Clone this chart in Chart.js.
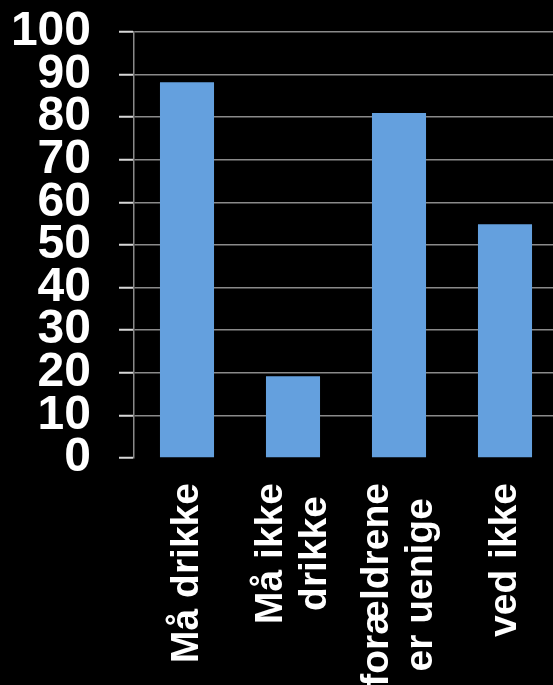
<!DOCTYPE html>
<html>
<head>
<meta charset="utf-8">
<script src="https://cdn.jsdelivr.net/npm/chart.js@4"></script>
<style>
  html, body { margin: 0; padding: 0; background: #000; overflow: hidden; }
  #wrap { width: 558px; height: 685px; }
</style>
</head>
<body>
<div id="wrap"><canvas id="myChart" width="558" height="685"></canvas></div>
<script>
var categories = [['Må drikke'], ['Må ikke', 'drikke'], ['forældrene', 'er uenige'], ['ved ikke']];
var values = [88.2, 19.2, 81.0, 54.9];
var yTicks = [0, 10, 20, 30, 40, 50, 60, 70, 80, 90, 100];

var FONT = "'Liberation Sans', Arial, sans-serif";

// x labels are drawn rotated, with each line centred on the others
var rotatedLabels = {
    id: 'rotatedLabels',
    afterDraw: function (chart) {
        var ctx = chart.ctx;
        var xScale = chart.scales.x;
        var top = chart.chartArea.bottom + 25;
        var lh = 44;
        ctx.save();
        ctx.font = 'bold 39px ' + FONT;
        ctx.fillStyle = '#fff';
        ctx.textAlign = 'center';
        ctx.textBaseline = 'middle';
        categories.forEach(function (lines, i) {
            var maxW = 0;
            lines.forEach(function (l) { maxW = Math.max(maxW, ctx.measureText(l).width); });
            var x = xScale.getPixelForTick(i);
            ctx.save();
            ctx.translate(x, top + maxW / 2);
            ctx.rotate(-Math.PI / 2);
            lines.forEach(function (l, j) {
                ctx.fillText(l, 0, (j - (lines.length - 1) / 2) * lh);
            });
            ctx.restore();
        });
        ctx.restore();
    }
};

var ctx = document.getElementById("myChart");
var myChart = new Chart(ctx, {
    type: 'bar',
    data: {
        labels: categories.map(function (c) { return c.join(' '); }),
        datasets: [{
            data: values,
            backgroundColor: '#64a0de',
            barPercentage: 0.51,
            categoryPercentage: 1
        }]
    },
    options: {
        responsive: false,
        animation: false,
        layout: {
            padding: { top: 32, bottom: 219, left: 0, right: 0 }
        },
        plugins: {
            legend: { display: false },
            tooltip: { enabled: false }
        },
        scales: {
            x: {
                grid: { display: false },
                border: { display: false },
                ticks: { display: false }
            },
            y: {
                min: 0,
                max: 100,
                afterFit: function (scale) {
                    scale.width = 134;
                    scale.paddingTop = 0;
                    scale.paddingBottom = 0;
                },
                afterBuildTicks: function (scale) {
                    scale.ticks = yTicks.map(function (v) { return { value: v }; });
                },
                grid: {
                    color: function (c) { return c.tick && c.tick.value === 0 ? 'rgba(0,0,0,0)' : '#8a8a8a'; },
                    lineWidth: 1.5,
                    tickLength: 15,
                    tickColor: '#d8d8d8',
                    tickWidth: 2
                },
                border: { color: '#8a8a8a', width: 1.5 },
                ticks: {
                    autoSkip: false,
                    color: '#fff',
                    padding: 28,
                    font: { family: FONT, size: 48, weight: 'bold', lineHeight: 1 }
                }
            }
        }
    },
    plugins: [rotatedLabels]
});
</script>
</body>
</html>
